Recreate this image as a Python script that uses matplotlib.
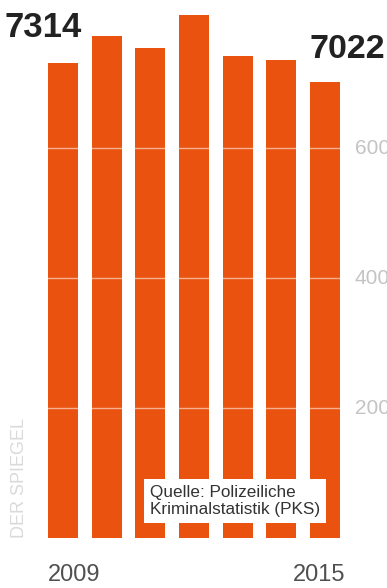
import matplotlib
matplotlib.use("Agg")
import matplotlib.pyplot as plt

years = [2009, 2010, 2011, 2012, 2013, 2014, 2015]
values = [7314, 7720, 7540, 8040, 7410, 7350, 7022]
grid_values = [2000, 4000, 6000]
grid_labels = ["2000", "4000", "6000"]
first_label = "7314"
last_label = "7022"
year_labels = ["2009", "2015"]
source = "Quelle: Polizeiliche\nKriminalstatistik (PKS)"
brand = "DER SPIEGEL"

W, H = 387, 588
fig = plt.figure(figsize=(W / 100, H / 100), dpi=100)
ax = fig.add_axes([0, 0, 1, 1])
# pixel mapping: bar centre i at 63 + 43.67*i px; zero at y=538 px, 2000 units = 130 px
sp = 43.67
u = 2000 / 130  # data units per pixel
ax.set_xlim(-63 / sp, (W - 63) / sp)
ax.set_ylim(-(H - 538) * u, 538 * u)
ax.axis("off")

bar_color = "#E9520F"
xs = list(range(len(values)))
ax.bar(xs, values, width=0.69, color=bar_color, zorder=1)

for g, lab in zip(grid_values, grid_labels):
    ax.plot([-0.5, 6.5], [g, g], color="white", lw=1.0, alpha=0.55, zorder=2)
    ax.text(6.68, g, lab, fontsize=15, color="#c4c4c4", va="center", ha="left",
            family="Liberation Sans")

ax.text(-1.33, (538 - 37) * u, first_label, fontsize=25, fontweight="bold", color="#222222",
        ha="left", va="baseline", family="Liberation Sans")
ax.text(5.64, (538 - 58) * u, last_label, fontsize=24.5, fontweight="bold", color="#222222",
        ha="left", va="baseline", family="Liberation Sans")

ax.text(0.25, -(575 - 538) * u, year_labels[0], fontsize=17, color="#505050",
        ha="center", va="center", family="Liberation Sans")
ax.text(5.87, -(575 - 538) * u, year_labels[1], fontsize=17, color="#505050",
        ha="center", va="center", family="Liberation Sans")

ax.text(-0.99, 0, brand, fontsize=13, color="#dadada", rotation=90, ha="center",
        va="bottom", family="Liberation Sans")

ax.text(1.99, (538 - 501) * u, source, fontsize=12.3, color="#333333",
        ha="left", va="center", family="Liberation Sans", linespacing=1.15,
        bbox=dict(boxstyle="square,pad=0.35", facecolor="white", edgecolor="none"),
        zorder=3)

fig.savefig("out.png", dpi=100)
